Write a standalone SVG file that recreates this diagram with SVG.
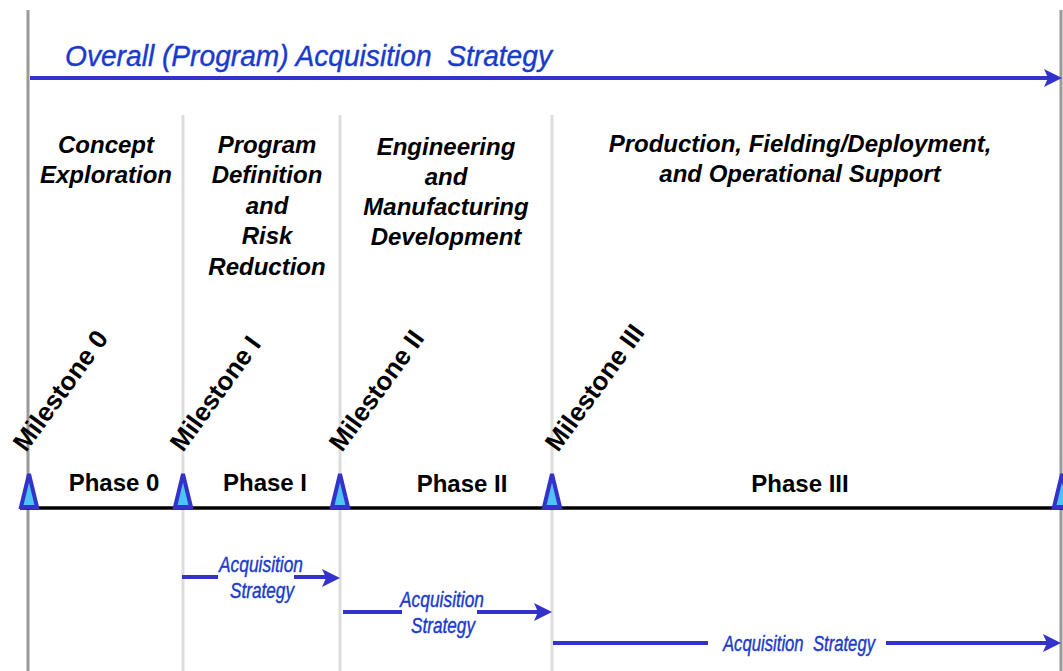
<svg xmlns="http://www.w3.org/2000/svg" width="1063" height="671" viewBox="0 0 1063 671">
  <style>
    .frame { stroke: #9a9a9a; stroke-width: 3; fill: none; }
    .divider { stroke: #dddddd; stroke-width: 3; fill: none; }
    .timeline { stroke: #000000; stroke-width: 3.5; fill: none; }
    .flow { stroke: #3333cc; stroke-width: 4; fill: none; }
    .head { fill: #3333cc; stroke: none; }
    .marker-tri { fill: #4fc3f7; stroke: #3333cc; stroke-width: 4; stroke-linejoin: miter; }
    .phase-title { font-family: "Liberation Sans", Arial, sans-serif; font-size: 24px; font-weight: bold; font-style: italic; fill: #000; text-anchor: middle; }
    .phase-label { font-family: "Liberation Sans", Arial, sans-serif; font-size: 24px; font-weight: bold; fill: #000; text-anchor: middle; }
    .milestone { font-family: "Liberation Sans", Arial, sans-serif; font-size: 26px; font-weight: bold; fill: #000; }
    .strategy { font-family: "Liberation Sans", Arial, sans-serif; font-style: italic; fill: #1a3acc; stroke: #1a3acc; stroke-width: 0.4; white-space: pre; }
  </style>
  <defs>
    <path id="arrowhead" d="M0,0 L-18,-9 L-14,0 L-18,9 Z"/>
    <polygon id="tri" points="0,-34 -8,-1 8,-1"/>
  </defs>

  <rect width="1063" height="671" fill="#ffffff"/>

  <!-- outer frame lines and phase dividers -->
  <g id="grid">
    <line class="frame" x1="28" y1="10" x2="28" y2="671"/>
    <line class="frame" x1="1061" y1="10" x2="1061" y2="671"/>
    <line class="divider" x1="183" y1="115" x2="183" y2="671"/>
    <line class="divider" x1="340" y1="115" x2="340" y2="671"/>
    <line class="divider" x1="552" y1="115" x2="552" y2="671"/>
  </g>

  <!-- overall strategy banner -->
  <g id="overall-strategy">
    <text class="strategy" x="65" y="66" font-size="30" stroke-width="0.3" textLength="487" lengthAdjust="spacingAndGlyphs">Overall (Program) Acquisition  Strategy</text>
  </g>

  <!-- phase titles -->
  <g id="title-concept">
    <text class="phase-title" x="106" y="153">Concept</text>
    <text class="phase-title" x="106" y="183">Exploration</text>
  </g>
  <g id="title-definition">
    <text class="phase-title" x="267" y="153">Program</text>
    <text class="phase-title" x="267" y="183">Definition</text>
    <text class="phase-title" x="267" y="214">and</text>
    <text class="phase-title" x="267" y="244">Risk</text>
    <text class="phase-title" x="267" y="275">Reduction</text>
  </g>
  <g id="title-emd">
    <text class="phase-title" x="446" y="155">Engineering</text>
    <text class="phase-title" x="446" y="185">and</text>
    <text class="phase-title" x="446" y="215">Manufacturing</text>
    <text class="phase-title" x="446" y="245">Development</text>
  </g>
  <g id="title-production">
    <text class="phase-title" x="800" y="152">Production, Fielding/Deployment,</text>
    <text class="phase-title" x="800" y="182">and Operational Support</text>
  </g>

  <!-- milestone labels -->
  <g id="milestone-0"><text class="milestone" transform="translate(26,453) rotate(-54)">Milestone 0</text></g>
  <g id="milestone-1"><text class="milestone" transform="translate(183,453) rotate(-54)">Milestone I</text></g>
  <g id="milestone-2"><text class="milestone" transform="translate(342,453) rotate(-54)">Milestone II</text></g>
  <g id="milestone-3"><text class="milestone" transform="translate(558,453) rotate(-54)">Milestone III</text></g>

  <!-- phase labels -->
  <g id="phase-0"><text class="phase-label" x="114" y="491">Phase 0</text></g>
  <g id="phase-1"><text class="phase-label" x="265" y="491">Phase I</text></g>
  <g id="phase-2"><text class="phase-label" x="462" y="492">Phase II</text></g>
  <g id="phase-3"><text class="phase-label" x="800" y="492">Phase III</text></g>

  <!-- connectors: timeline and strategy arrows -->
  <g id="connectors">
    <line class="timeline" x1="20" y1="508" x2="1063" y2="508"/>

    <line class="flow" x1="30" y1="78" x2="1048" y2="78"/>
    <use href="#arrowhead" class="head" transform="translate(1062,78)"/>

    <line class="flow" x1="182" y1="577" x2="218" y2="577"/>
    <line class="flow" x1="294" y1="577" x2="326" y2="577"/>
    <use href="#arrowhead" class="head" transform="translate(340,578)"/>

    <line class="flow" x1="343" y1="612" x2="402" y2="612"/>
    <line class="flow" x1="477" y1="612" x2="538" y2="612"/>
    <use href="#arrowhead" class="head" transform="translate(552,612)"/>

    <line class="flow" x1="553" y1="643" x2="708" y2="643"/>
    <line class="flow" x1="886" y1="643" x2="1047" y2="643"/>
    <use href="#arrowhead" class="head" transform="translate(1061,643)"/>
  </g>

  <!-- milestone markers on the timeline -->
  <g id="markers">
    <use href="#tri" class="marker-tri" transform="translate(29,508)"/>
    <use href="#tri" class="marker-tri" transform="translate(183,508)"/>
    <use href="#tri" class="marker-tri" transform="translate(340,508)"/>
    <use href="#tri" class="marker-tri" transform="translate(552,508)"/>
    <use href="#tri" class="marker-tri" transform="translate(1062,508)"/>
  </g>

  <!-- strategy labels on the arrows -->
  <g id="strategy-1">
    <text class="strategy" x="219" y="572" font-size="22" textLength="84" lengthAdjust="spacingAndGlyphs">Acquisition</text>
    <text class="strategy" x="230" y="598" font-size="22" textLength="64" lengthAdjust="spacingAndGlyphs">Strategy</text>
  </g>
  <g id="strategy-2">
    <text class="strategy" x="400" y="607" font-size="22" textLength="84" lengthAdjust="spacingAndGlyphs">Acquisition</text>
    <text class="strategy" x="411" y="633" font-size="22" textLength="64" lengthAdjust="spacingAndGlyphs">Strategy</text>
  </g>
  <g id="strategy-3">
    <text class="strategy" x="723" y="651" font-size="22" textLength="152" lengthAdjust="spacingAndGlyphs">Acquisition  Strategy</text>
  </g>
</svg>
